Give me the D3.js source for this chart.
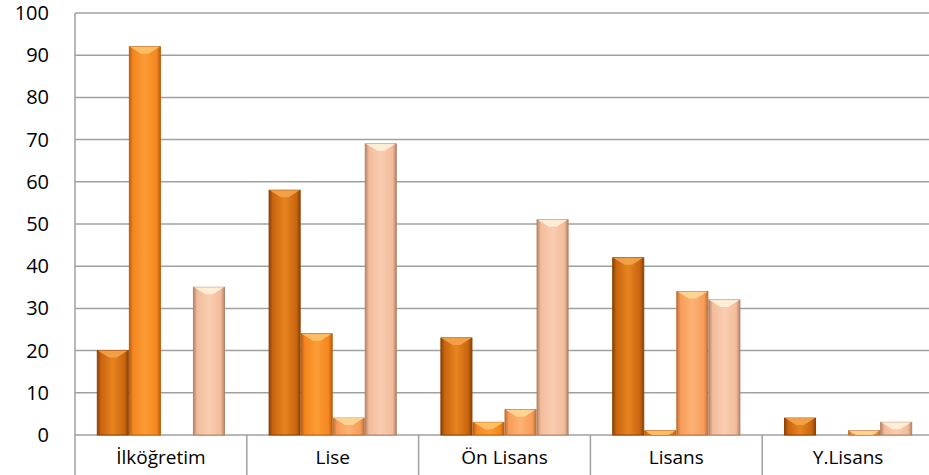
<!DOCTYPE html>
<html>
<head>
<meta charset="utf-8">
<script src="https://cdn.jsdelivr.net/npm/d3@7"></script>
<style>
  body { margin: 0; background: #fff; }
  text { font-family: "Open Sans", "Noto Sans", sans-serif; font-weight: 400; fill: #000; }
</style>
</head>
<body>
<svg id="chart"></svg>
<script>
var categories = ["İlköğretim", "Lise", "Ön Lisans", "Lisans", "Y.Lisans"];
var series1 = [20, 58, 23, 42, 4];
var series2 = [92, 24, 3, 1, 0];
var series3 = [0, 4, 6, 34, 1];
var series4 = [35, 69, 51, 32, 3];
var yTicks = [0, 10, 20, 30, 40, 50, 60, 70, 80, 90, 100];

var seriesList = [series1, series2, series3, series4];
var colors = [
  { base: "#c8650f", light: "#e8841f", dark: "#8a4208", top: "#f3a44a" },
  { base: "#f5861f", light: "#fb9c35", dark: "#b8600f", top: "#fdc26a" },
  { base: "#f79c58", light: "#fcb274", dark: "#c07038", top: "#fdd895" },
  { base: "#f2bc9c", light: "#f9cdb0", dark: "#b48468", top: "#fff1dc" }
];

var svgWidth = 929, svgHeight = 475;
var margin = { top: 13, left: 75 };
var width = 859, height = 422;

var svg = d3.select("#chart")
    .attr("width", svgWidth)
    .attr("height", svgHeight);

var defs = svg.append("defs");
colors.forEach(function(c, i) {
    var grad = defs.append("linearGradient")
        .attr("id", "grad" + i)
        .attr("x1", "0").attr("x2", "1").attr("y1", "0").attr("y2", "0");
    grad.append("stop").attr("offset", "0%").attr("stop-color", c.dark);
    grad.append("stop").attr("offset", "12%").attr("stop-color", c.base);
    grad.append("stop").attr("offset", "50%").attr("stop-color", c.light);
    grad.append("stop").attr("offset", "88%").attr("stop-color", c.base);
    grad.append("stop").attr("offset", "100%").attr("stop-color", c.dark);
});

var g = svg.append("g")
    .attr("transform", "translate(" + margin.left + "," + margin.top + ")");

var x = d3.scaleBand().domain(categories).range([0, width]).paddingInner(0).paddingOuter(0);
var x1 = d3.scaleBand().domain(d3.range(4)).range([0, x.bandwidth()]).paddingInner(0).paddingOuter(0.68);
var y = d3.scaleLinear().domain([0, 100]).range([height, 0]);

// gridlines
g.append("g")
    .selectAll("line")
    .data(yTicks)
    .enter().append("line")
    .attr("x1", 0).attr("x2", width)
    .attr("y1", function(d) { return y(d); })
    .attr("y2", function(d) { return y(d); })
    .attr("stroke", "#a0a0a0")
    .attr("stroke-width", 1.5);

// y axis labels
g.append("g")
    .call(d3.axisLeft(y).tickValues(yTicks).tickSize(0).tickPadding(26))
    .call(function(a) { a.select(".domain").remove(); })
    .selectAll("text")
    .style("font-size", "20px")
    .style("font-family", "'Open Sans', 'Noto Sans', sans-serif")
    .attr("fill", "#000");

// left axis line
g.append("line")
    .attr("x1", 0).attr("x2", 0)
    .attr("y1", 0).attr("y2", svgHeight - margin.top)
    .attr("stroke", "#a0a0a0").attr("stroke-width", 1.5);

// category separators
g.append("g")
    .selectAll("line")
    .data(categories.slice(1))
    .enter().append("line")
    .attr("x1", function(d) { return x(d); })
    .attr("x2", function(d) { return x(d); })
    .attr("y1", height)
    .attr("y2", svgHeight - margin.top)
    .attr("stroke", "#a0a0a0").attr("stroke-width", 1.5);

// category labels
g.append("g")
    .selectAll("text")
    .data(categories)
    .enter().append("text")
    .attr("x", function(d) { return x(d) + x.bandwidth() / 2; })
    .attr("y", height + 29)
    .attr("text-anchor", "middle")
    .style("font-size", "19px")
    .text(function(d) { return d; });

// bars
seriesList.forEach(function(vals, si) {
    var c = colors[si];
    var bars = g.append("g").selectAll("g")
        .data(categories)
        .enter().append("g")
        .attr("transform", function(d) { return "translate(" + (x(d) + x1(si)) + ",0)"; });

    var bw = x1.bandwidth();

    bars.each(function(d, i) {
        var v = vals[i];
        if (v <= 0) return;
        var sel = d3.select(this);
        var top = y(v), h = y(0) - y(v);
        sel.append("rect")
            .attr("x", 0.5).attr("width", bw - 1)
            .attr("y", top).attr("height", h)
            .attr("fill", "url(#grad" + si + ")")
            .attr("stroke", c.dark).attr("stroke-width", 1);
        var bev = Math.min(7, h);
        sel.append("path")
            .attr("d", "M1," + top + " L" + (bw - 1) + "," + top +
                " L" + (bw - 1 - bev * 1.6) + "," + (top + bev) +
                " L" + (1 + bev * 1.6) + "," + (top + bev) + "Z")
            .attr("fill", c.top)
            .attr("opacity", 0.9);
    });
});
</script>
</body>
</html>
